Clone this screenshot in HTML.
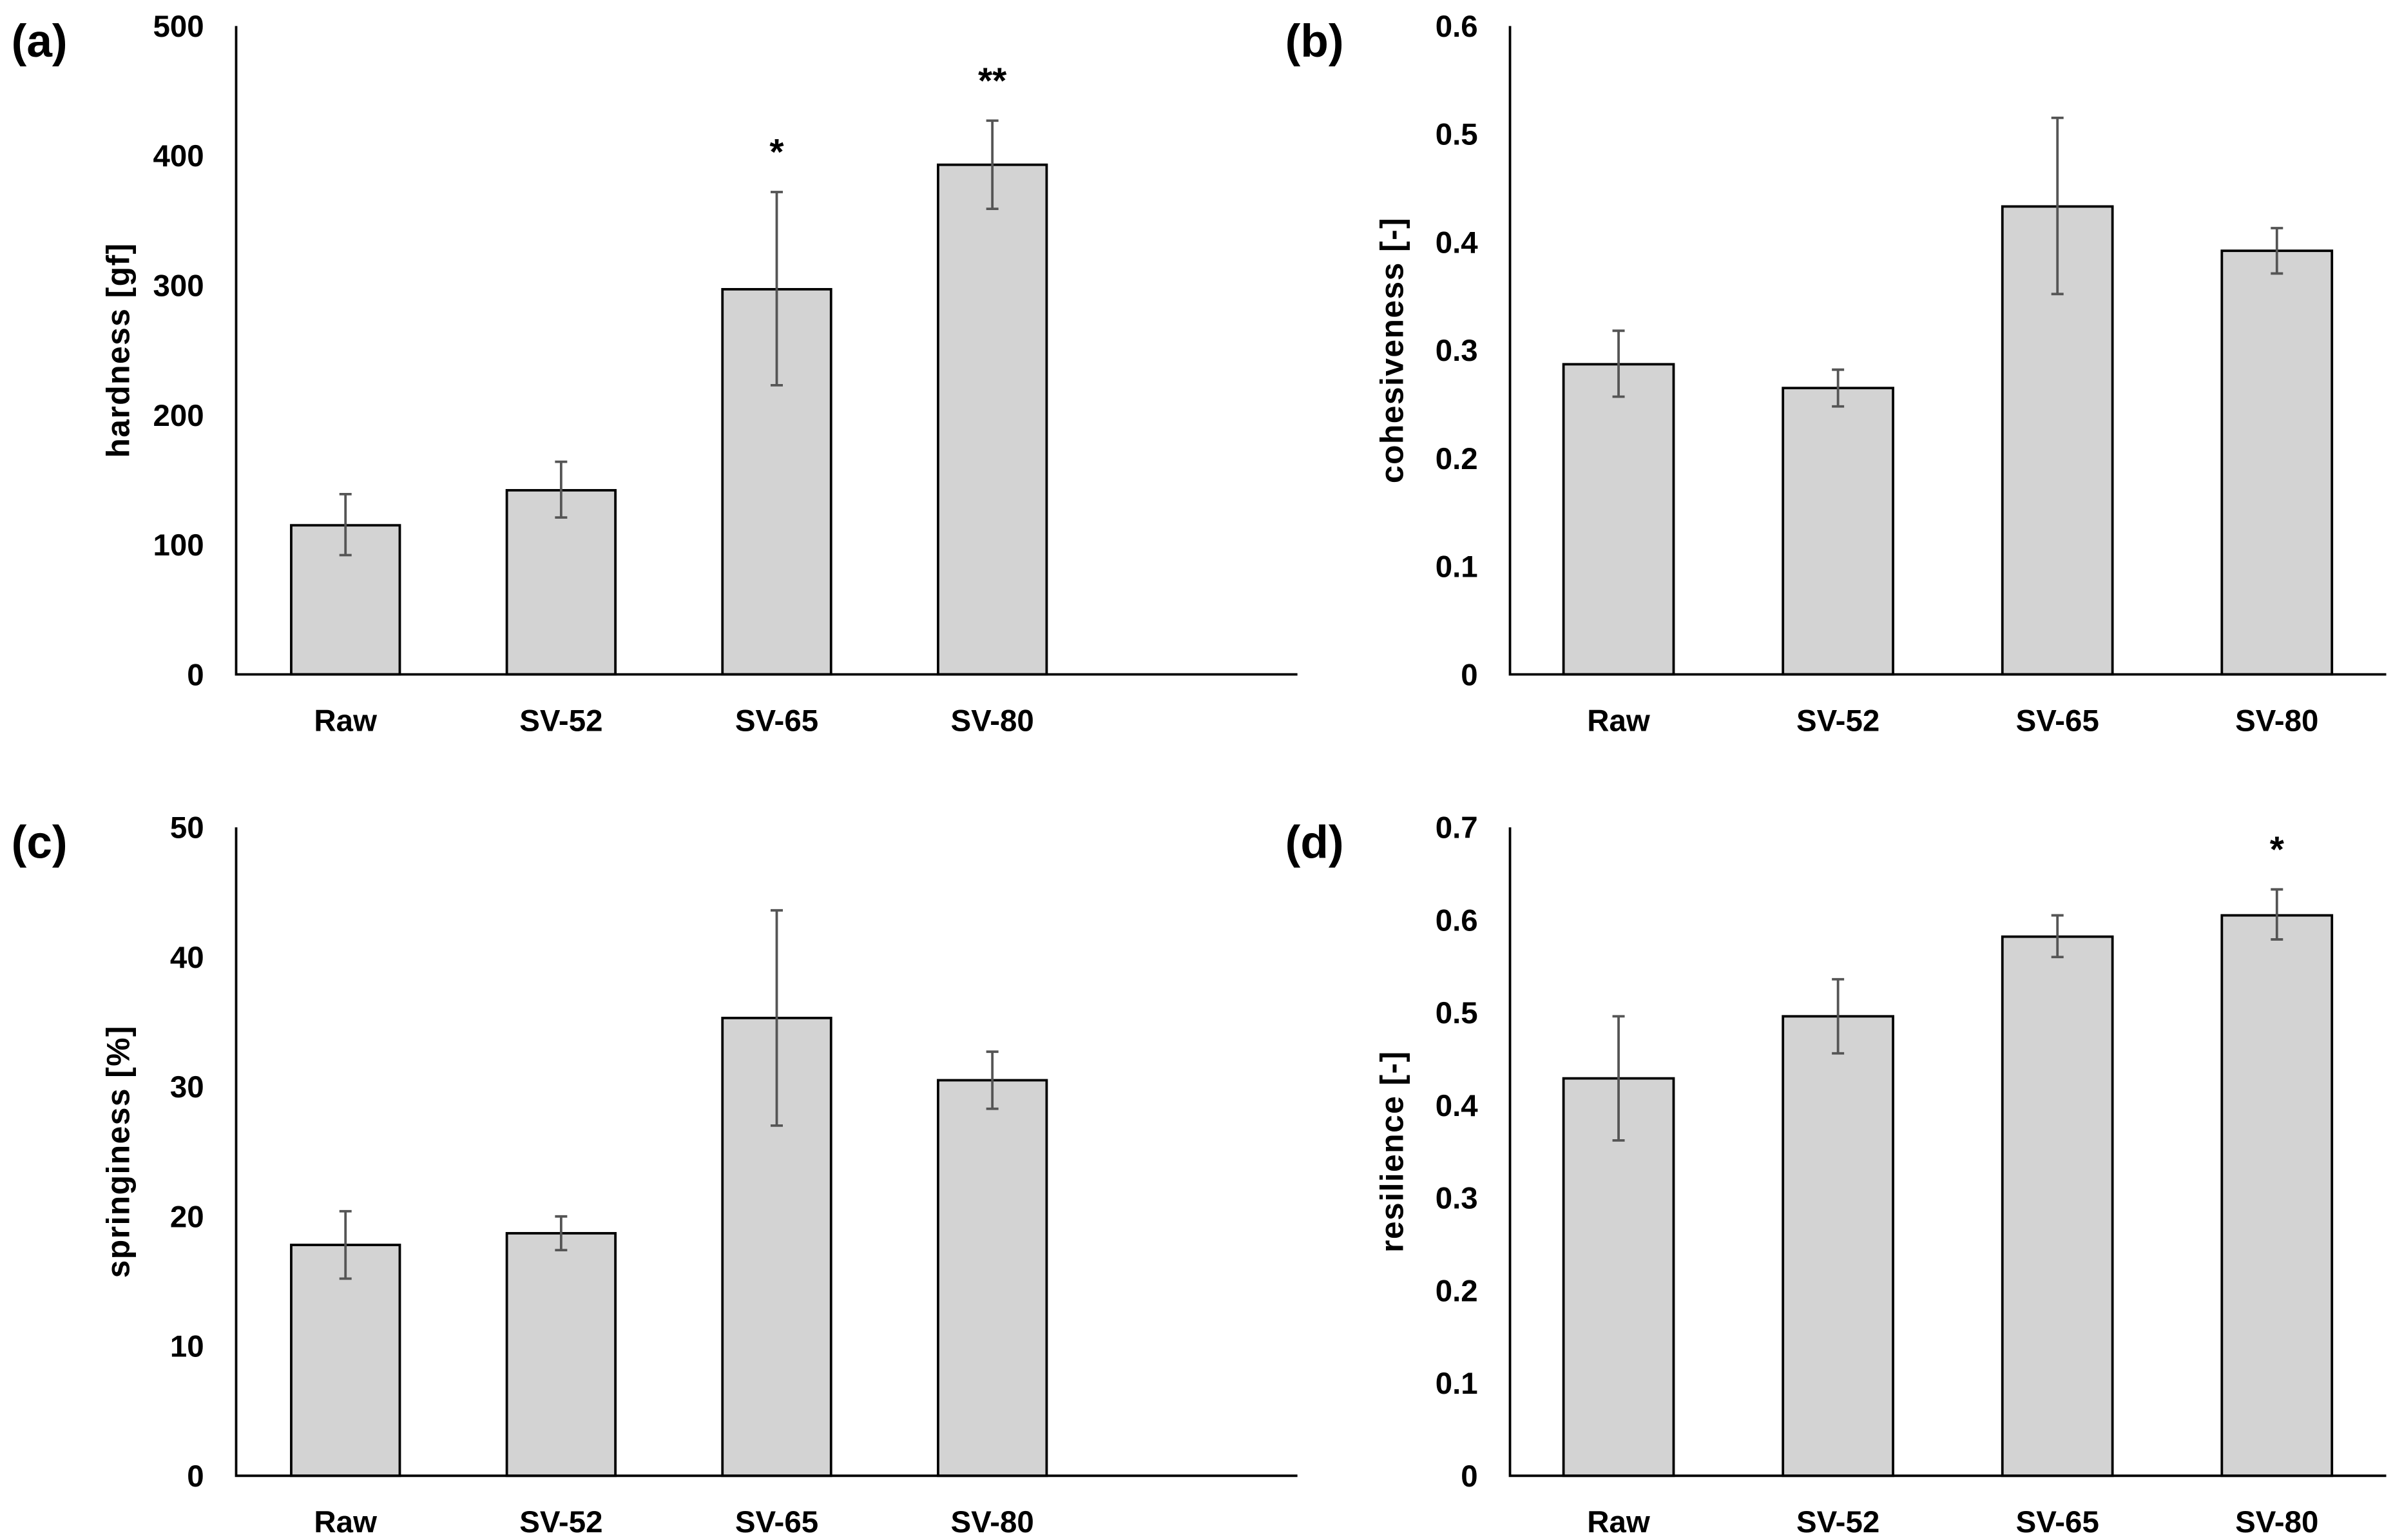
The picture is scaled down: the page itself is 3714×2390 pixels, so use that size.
<!DOCTYPE html>
<html><head><meta charset="utf-8"><style>
html,body{margin:0;padding:0;background:#fff;}
svg{display:block;}
text{font-family:"Liberation Sans Narrow","Liberation Sans",sans-serif;font-weight:bold;fill:#000;}
</style></head><body>
<svg id="fig" width="3714" height="2390" viewBox="0 0 1564 1007" xmlns="http://www.w3.org/2000/svg"></svg>
<script>
const categories = ["Raw","SV-52","SV-65","SV-80"];
const hardnessValues = [115,142,297,393];
const hardnessLow = [92,121,223,359];
const hardnessHigh = [139,164,372,427];
const hardnessTicks = [0,100,200,300,400,500];
const hardnessStars = ["","","*","**"];
const cohesValues = [0.287,0.265,0.433,0.392];
const cohesLow = [0.257,0.248,0.352,0.371];
const cohesHigh = [0.318,0.282,0.515,0.413];
const cohesTicks = ["0","0.1","0.2","0.3","0.4","0.5","0.6"];
const cohesStars = ["","","",""];
const springValues = [17.8,18.7,35.3,30.5];
const springLow = [15.2,17.4,27.0,28.3];
const springHigh = [20.4,20.0,43.6,32.7];
const springTicks = [0,10,20,30,40,50];
const springStars = ["","","",""];
const resilValues = [0.429,0.496,0.582,0.605];
const resilLow = [0.362,0.456,0.560,0.579];
const resilHigh = [0.496,0.536,0.605,0.633];
const resilTicks = ["0","0.1","0.2","0.3","0.4","0.5","0.6","0.7"];
const resilStars = ["","","","*"];

const svg = document.getElementById('fig');
const NS = "http://www.w3.org/2000/svg";
function mk(tag, attrs, parent){
  const e = document.createElementNS(NS, tag);
  for (const k in attrs) e.setAttribute(k, attrs[k]);
  (parent||svg).appendChild(e);
  return e;
}
function panel(id, letter, ax, top, bottom, right, firstBar, spacing, barW, ticks, vals, lo, hi, stars, title){
  const g = mk('g', {});
  
  
  const tnum = ticks.map(Number);
  const ymax = tnum[tnum.length-1];
  const y = v => bottom - (v / ymax) * (bottom - top);
  const x = i => firstBar + i * spacing;
  const lab = mk('text', {x: ax - 147, y: top + 20, 'font-size': 30}, g);
  lab.textContent = '(' + letter + ')';
  
  
  ticks.forEach((t) => {
    const tt = mk('text', {x: ax - 21, y: y(Number(t)) + 7, 'font-size': 20, 'text-anchor': 'end'}, g);
    tt.textContent = t;
    
    
  });
  const yt = mk('text', {x: 0, y: 0, 'font-size': 21, 'letter-spacing': 0.6, 'text-anchor': 'middle', transform: `translate(${ax-70},${(top+bottom)/2}) rotate(-90)`}, g);
  yt.textContent = title;
  
  
  vals.forEach((v, i) => {
    const b = mk('rect', {x: x(i), y: y(v), width: barW, height: bottom - y(v), fill: '#d3d3d3', stroke: '#000', 'stroke-width': 1.6}, g);
    
    
    const cx = x(i) + barW/2;
    const eb = mk('path', {d: `M${cx},${y(lo[i])}V${y(hi[i])}M${cx-4},${y(lo[i])}H${cx+4}M${cx-4},${y(hi[i])}H${cx+4}`, stroke: '#555', 'stroke-width': 1.6, fill: 'none'}, g);
    
    
    if (stars[i]) {
      const s = mk('text', {x: cx, y: y(hi[i]) - 18, 'font-size': 24, 'text-anchor': 'middle'}, g);
      s.textContent = stars[i];
      
      
    }
    const xl = mk('text', {x: cx, y: bottom + 37, 'font-size': 20, 'text-anchor': 'middle'}, g);
    xl.textContent = categories[i];
    
    
  });
  const axes = mk('path', {d: `M${ax},${top}V${bottom}H${right}`, stroke: '#000', 'stroke-width': 1.6, fill: 'none'}, g);
  
  
}
panel('hardness','a',154,17,441,848,190,141,71,hardnessTicks,hardnessValues,hardnessLow,hardnessHigh,hardnessStars,'hardness [gf]');
panel('cohesiveness','b',987,17,441,1560,1022,143.5,72,cohesTicks,cohesValues,cohesLow,cohesHigh,cohesStars,'cohesiveness [-]');
panel('springiness','c',154,541,965,848,190,141,71,springTicks,springValues,springLow,springHigh,springStars,'springiness [%]');
panel('resilience','d',987,541,965,1560,1022,143.5,72,resilTicks,resilValues,resilLow,resilHigh,resilStars,'resilience [-]');
</script>
</body></html>
